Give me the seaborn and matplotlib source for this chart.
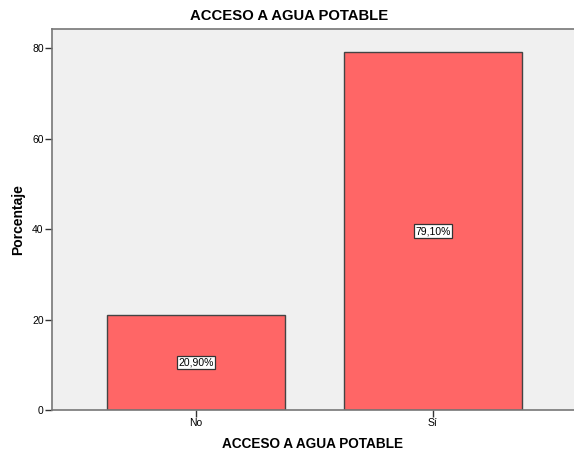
import matplotlib
matplotlib.use("Agg")
import matplotlib.pyplot as plt
import seaborn as sns
import pandas as pd

categories = ["No", "Sí"]
percentages = [20.9, 79.1]
value_labels = ["20,90%", "79,10%"]
y_ticks = [0, 20, 40, 60, 80]

sns.set_style("white")
plt.rcParams["font.family"] = ["Liberation Sans", "DejaVu Sans"]
plt.rcParams["text.color"] = "black"
plt.rcParams["axes.labelcolor"] = "black"
plt.rcParams["xtick.color"] = "black"
plt.rcParams["ytick.color"] = "black"

df = pd.DataFrame({"ACCESO A AGUA POTABLE": categories, "Porcentaje": percentages})

fig = plt.figure(figsize=(5.74, 4.55), dpi=100)
ax = fig.add_axes([52 / 574, 45 / 455, 522 / 574, 381 / 455])
ax.set_facecolor("#F0F0F0")

sns.barplot(data=df, x="ACCESO A AGUA POTABLE", y="Porcentaje", ax=ax,
            color="#FF6666", saturation=1, width=0.75,
            edgecolor="#444444", linewidth=1.0)

for patch, txt in zip(ax.patches, value_labels):
    cx = patch.get_x() + patch.get_width() / 2
    cy = patch.get_height() / 2
    ax.text(cx, cy, txt, ha="center", va="center", fontsize=7.5,
            bbox=dict(boxstyle="square,pad=0.15", facecolor="white",
                      edgecolor="#333333", linewidth=0.9))

ax.set_xlim(-0.608, 1.595)
ax.set_ylim(0, 84.2)
ax.set_yticks(y_ticks)
ax.tick_params(axis="both", labelsize=7.5, length=5, width=1, color="#333333",
               direction="out", pad=1)
ax.tick_params(axis="y", left=True)
ax.tick_params(axis="x", bottom=True)

for side, sp in ax.spines.items():
    sp.set_color("#777777")
    sp.set_linewidth(1.2)
ax.spines["right"].set_visible(False)

ax.set_xlabel("ACCESO A AGUA POTABLE", fontsize=9.8, fontweight="bold", labelpad=6)
ax.set_ylabel("Porcentaje", fontsize=10, fontweight="bold", labelpad=5)
fig.text(289 / 574, 1 - 16 / 455, "ACCESO A AGUA POTABLE", ha="center", va="center",
         fontsize=10.7, fontweight="bold")

fig.savefig("out.png", dpi=100, facecolor="white")
